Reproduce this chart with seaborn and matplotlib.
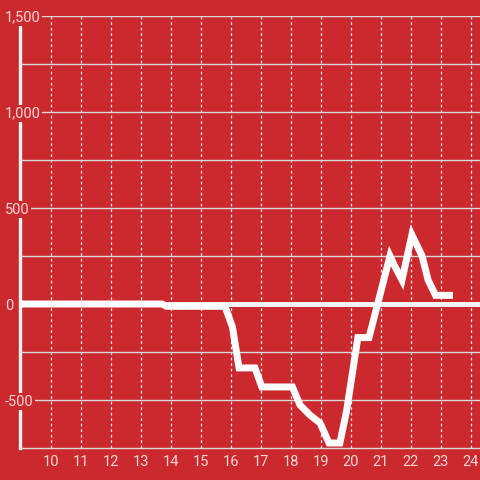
import matplotlib
matplotlib.use("Agg")
import matplotlib.pyplot as plt
import seaborn as sns
import pandas as pd

# ---- data ----
hours = [9.0, 13.7, 13.85, 15.8, 16.05, 16.27, 16.8, 17.03, 18.05, 18.3, 18.63,
         18.97, 19.27, 19.63, 19.85, 20.23, 20.6, 21.3, 21.45, 21.7, 22.03,
         22.37, 22.57, 22.82, 23.4]
values = [0, 0, -12, -12, -120, -333, -333, -432, -432, -526, -578,
          -620, -724, -724, -560, -175, -175, 250, 200, 125, 360,
          250, 125, 45, 45]
x_ticks = list(range(10, 25))
y_ticks = [-500, -250, 0, 250, 500, 750, 1000, 1250, 1500]
y_labels = ["-500", "", "0", "", "500", "", "1,000", "", "1,500"]

BG = "#cc292e"
TXT = "#f3d6d6"

sns.set_style("white", {"axes.facecolor": BG, "figure.facecolor": BG})
plt.rcParams["font.family"] = ["Roboto", "DejaVu Sans"]

fig = plt.figure(figsize=(4.8, 4.8), dpi=100)
ax = fig.add_axes([20 / 480, 32 / 480, 460 / 480, 432 / 480])
ax.set_facecolor(BG)

df = pd.DataFrame({"hour": hours, "value": values})
ax.axhline(0, color="#f4f4f4", linewidth=3.6, zorder=2.8)
sns.lineplot(data=df, x="hour", y="value", ax=ax, color="white",
             linewidth=5, zorder=3, solid_capstyle="butt",
             solid_joinstyle="miter")

ax.set_xlim(8.97, 24.3)
ax.set_ylim(-750, 1500)
ax.set_xticks(x_ticks)
ax.set_xticklabels([str(t) for t in x_ticks])
ax.set_yticks(y_ticks)
ax.set_yticklabels(y_labels)
ax.set_xlabel("")
ax.set_ylabel("")

ax.set_axisbelow(False)
ax.xaxis.grid(True, color="#e6e6e6", linestyle=(0, (2.2, 2.2)), linewidth=0.9)
ax.yaxis.grid(True, color="#d9d9d9", linestyle="-", linewidth=1.0)

for s in ["top", "right"]:
    ax.spines[s].set_visible(False)
ax.spines["left"].set_color("#f4f4f4")
ax.spines["left"].set_linewidth(2.4)
ax.spines["bottom"].set_color("#d9d9d9")
ax.spines["bottom"].set_linewidth(1.0)

ax.tick_params(axis="x", length=0, pad=5, labelsize=10.5, labelcolor=TXT)
ax.tick_params(axis="y", length=0, pad=11, labelsize=10.5, labelcolor=TXT)
for lab in ax.get_yticklabels():
    lab.set_horizontalalignment("left")
    lab.set_bbox(dict(facecolor=BG, edgecolor="none", pad=1.2))

fig.savefig("out.png", dpi=100, facecolor=BG)
